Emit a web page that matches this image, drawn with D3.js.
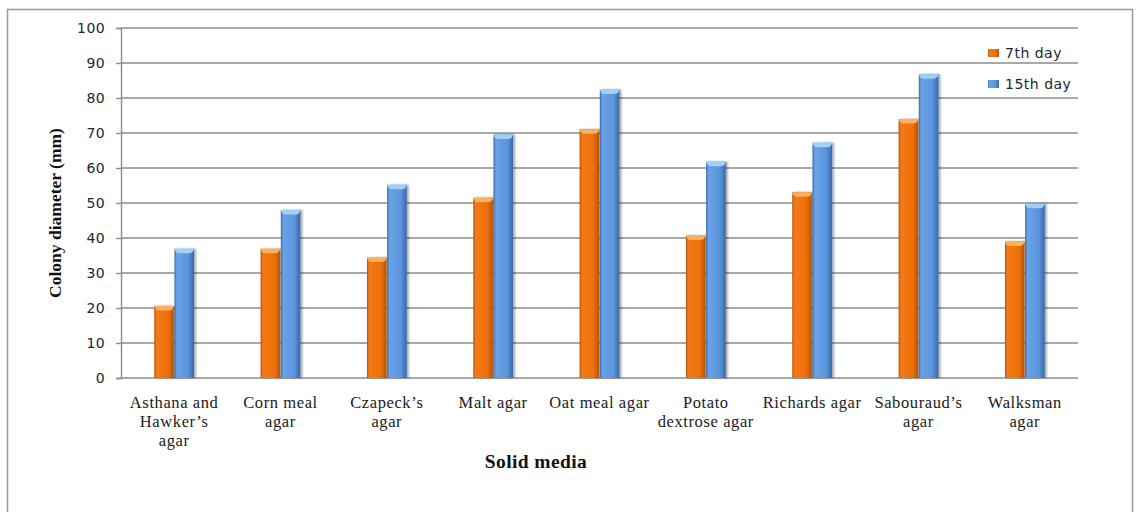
<!DOCTYPE html>
<html>
<head>
<meta charset="utf-8">
<script src="https://cdn.jsdelivr.net/npm/d3@7"></script>
<style>
  body { margin: 0; background: #fff; }
  svg { display: block; }
</style>
</head>
<body>
<div id="chart"></div>
<script>
var categories = [
  ["Asthana and", "Hawker\u2019s", "agar"],
  ["Corn meal", "agar"],
  ["Czapeck\u2019s", "agar"],
  ["Malt agar"],
  ["Oat meal agar"],
  ["Potato", "dextrose agar"],
  ["Richards agar"],
  ["Sabouraud\u2019s", "agar"],
  ["Walksman", "agar"]
];
var day7 = [20.6, 36.9, 34.4, 51.5, 71.1, 40.7, 53.1, 74.0, 39.0];
var day15 = [36.9, 48.0, 55.2, 69.6, 82.4, 61.8, 67.2, 86.8, 49.8];
var seriesNames = ["7th day", "15th day"];
var yTicks = [0, 10, 20, 30, 40, 50, 60, 70, 80, 90, 100];

var width = 1136, height = 512;
var margin = { left: 121, right: 58, top: 28, bottom: 134 };
var plotW = width - margin.left - margin.right;
var plotH = height - margin.top - margin.bottom;

var svg = d3.select("#chart")
  .append("svg")
  .attr("width", width)
  .attr("height", height);

// outer chart frame
svg.append("rect")
  .attr("x", 7.5).attr("y", 9.5)
  .attr("width", 1125).attr("height", 520)
  .attr("fill", "none")
  .attr("stroke", "#9a9a9a")
  .attr("stroke-width", 1.5);

var defs = svg.append("defs");
var palette = [
  { id: "gOrange", light: "#f37a18", mid: "#ee7008", dark: "#b85405", cap: "#fbb060" },
  { id: "gBlue", light: "#6aa2e6", mid: "#5a95dc", dark: "#3a68a8", cap: "#9fd0f8" }
];
palette.forEach(function (p) {
  var g = defs.append("linearGradient").attr("id", p.id)
    .attr("x1", "0").attr("x2", "1").attr("y1", "0").attr("y2", "0");
  g.append("stop").attr("offset", "0%").attr("stop-color", p.dark);
  g.append("stop").attr("offset", "12%").attr("stop-color", p.light);
  g.append("stop").attr("offset", "70%").attr("stop-color", p.mid);
  g.append("stop").attr("offset", "100%").attr("stop-color", p.dark);
});
var shadow = defs.append("filter").attr("id", "shadow")
  .attr("x", "-20%").attr("y", "-5%").attr("width", "150%").attr("height", "110%");
shadow.append("feDropShadow").attr("dx", 2).attr("dy", 0)
  .attr("stdDeviation", 1.2).attr("flood-color", "#000").attr("flood-opacity", 0.35);

var g = svg.append("g")
  .attr("transform", "translate(" + margin.left + "," + margin.top + ")");

var x0 = d3.scaleBand()
  .domain(d3.range(categories.length))
  .range([0, plotW])
  .padding(0);

var y = d3.scaleLinear()
  .domain([0, 100])
  .range([plotH, 0]);

var barW = 20.5;
var x1 = d3.scaleBand()
  .domain([0, 1])
  .range([-barW, barW])
  .padding(0.03);

// gridlines
g.append("g")
  .selectAll("line")
  .data(yTicks.filter(d => d > 0))
  .enter()
  .append("line")
  .attr("x1", 0).attr("x2", plotW)
  .attr("y1", d => y(d)).attr("y2", d => y(d))
  .attr("stroke", "#8c8c8c")
  .attr("stroke-width", 1.4);

// y axis
var yAxis = g.append("g")
  .call(d3.axisLeft(y).tickValues(yTicks).tickSize(5).tickPadding(11));
yAxis.select(".domain").attr("stroke", "#8c8c8c").attr("stroke-width", 1.4);
yAxis.selectAll(".tick line").attr("stroke", "#8c8c8c").attr("stroke-width", 1.4);
yAxis.selectAll(".tick text")
  .attr("fill", "#1e2433")
  .style("font-family", "'DejaVu Sans', Verdana, sans-serif")
  .style("font-size", "14px")
  .style("letter-spacing", "0.4px");

// x axis baseline
g.append("line")
  .attr("x1", 0).attr("x2", plotW)
  .attr("y1", y(0)).attr("y2", y(0))
  .attr("stroke", "#8c8c8c")
  .attr("stroke-width", 1.4);

// bars
var rows = categories.map((c, i) => [day7[i], day15[i]]);
var groups = g.selectAll(".grp")
  .data(rows)
  .enter()
  .append("g")
  .attr("class", "grp")
  .attr("transform", (d, i) => "translate(" + (x0(i) + x0.bandwidth() / 2) + ",0)");

var bars = groups.selectAll(".bar")
  .data(d => d.map((v, k) => ({ v: v, k: k })))
  .enter()
  .append("g")
  .attr("class", "bar");

bars.append("rect")
  .attr("x", d => x1(d.k))
  .attr("y", d => y(d.v))
  .attr("width", x1.bandwidth())
  .attr("height", d => y(0) - y(d.v))
  .attr("fill", d => "url(#" + palette[d.k].id + ")")
  .attr("filter", "url(#shadow)");

// light rounded bevel on the top of each bar
bars.append("path")
  .attr("d", function (d) {
    var bx = x1(d.k), bw = x1.bandwidth(), ty = y(d.v);
    return "M" + bx + "," + ty + "L" + (bx + bw) + "," + ty +
      "Q" + (bx + bw - 1) + "," + (ty + 4.5) + " " + (bx + bw - 5) + "," + (ty + 4.5) +
      "L" + (bx + 5) + "," + (ty + 4.5) +
      "Q" + (bx + 1) + "," + (ty + 4.5) + " " + bx + "," + ty + "Z";
  })
  .attr("fill", d => palette[d.k].cap);

// category labels
var catLabels = g.selectAll(".cat")
  .data(categories)
  .enter()
  .append("text")
  .attr("class", "cat")
  .attr("text-anchor", "middle")
  .attr("x", (d, i) => x0(i) + x0.bandwidth() / 2)
  .attr("y", plotH + 30)
  .attr("fill", "#1a1a1a")
  .style("font-family", "'Liberation Serif', 'Times New Roman', serif")
  .style("font-size", "16.5px")
  .style("letter-spacing", "0.6px");
catLabels.selectAll("tspan")
  .data(d => d)
  .enter()
  .append("tspan")
  .attr("x", function () { return d3.select(this.parentNode).attr("x"); })
  .attr("dy", (d, i) => i === 0 ? 0 : 19)
  .text(d => d);

// axis titles
svg.append("text")
  .attr("x", 536)
  .attr("y", 468)
  .attr("text-anchor", "middle")
  .attr("fill", "#111")
  .style("font-family", "'Liberation Serif', 'Times New Roman', serif")
  .style("font-weight", "bold")
  .style("font-size", "19.5px")
  .style("letter-spacing", "0.4px")
  .text("Solid media");

svg.append("text")
  .attr("transform", "translate(61,213) rotate(-90)")
  .attr("text-anchor", "middle")
  .attr("fill", "#111")
  .style("font-family", "'Liberation Serif', 'Times New Roman', serif")
  .style("font-weight", "bold")
  .style("font-size", "17.5px")
  .text("Colony diameter (mm)");

// legend
var legend = svg.append("g")
  .selectAll("g")
  .data(seriesNames)
  .enter()
  .append("g")
  .attr("transform", (d, i) => "translate(988," + (49 + i * 31) + ")");
legend.append("rect")
  .attr("width", 11).attr("height", 8)
  .attr("fill", (d, i) => "url(#" + palette[i].id + ")");
legend.append("text")
  .attr("x", 17).attr("y", 9)
  .attr("fill", "#1e2433")
  .style("font-family", "'DejaVu Sans', Verdana, sans-serif")
  .style("font-size", "14px")
  .style("letter-spacing", "0.5px")
  .text(d => d);
</script>
</body>
</html>
